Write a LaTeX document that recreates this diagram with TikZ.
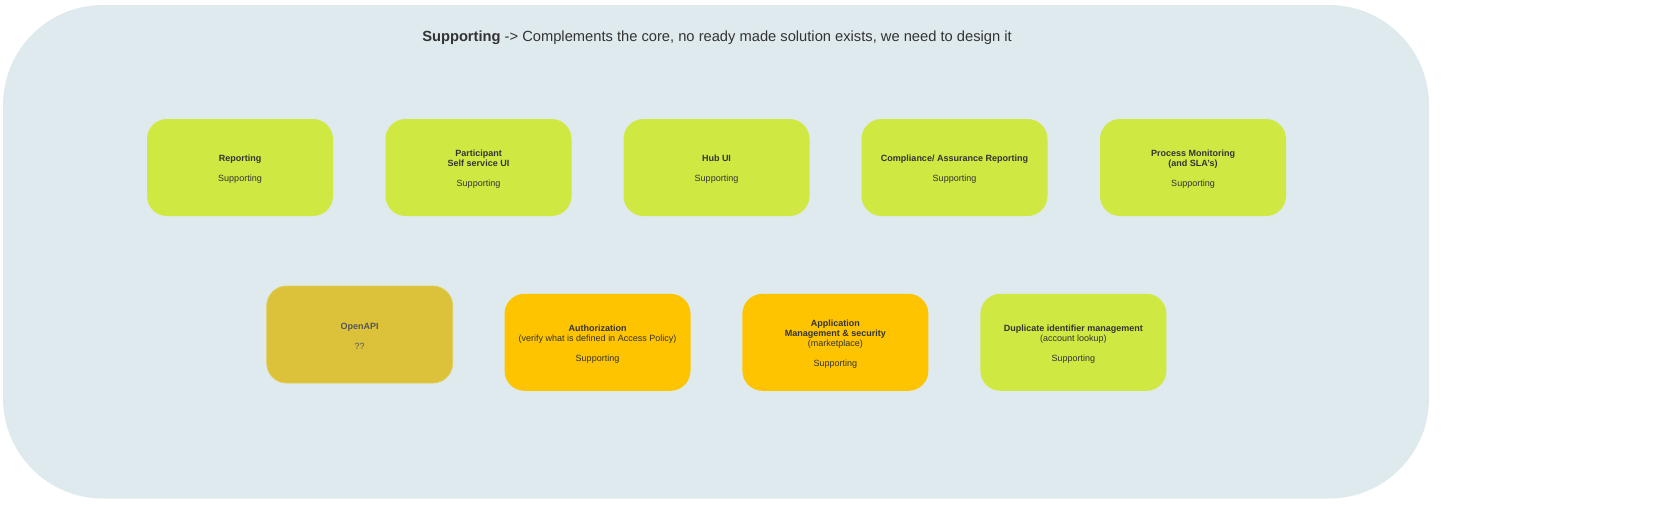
\documentclass[tikz,border=0pt]{standalone}
\usepackage{fontspec}
\setmainfont{Liberation Sans}
\definecolor{bgblue}{HTML}{DFEAEE}
\definecolor{lime}{HTML}{D0E842}
\definecolor{amber}{HTML}{FEC400}
\definecolor{mustard}{HTML}{DCC23A}
\definecolor{mustardline}{HTML}{E3CC55}
\definecolor{txt}{HTML}{333333}
\definecolor{txtgrey}{HTML}{555555}
\newcommand{\up}{\rule{0pt}{9.5pt}}
\tikzset{
  card/.style={rounded corners=20pt, minimum width=186pt, minimum height=97pt,
    align=center, inner sep=2pt, text=txt, font=\fontsize{9}{10}\selectfont},
  limecard/.style={card, fill=lime},
  ambercard/.style={card, fill=amber},
  mustardcard/.style={card, fill=mustard, draw=mustardline, line width=0.8pt, text=txtgrey},
}
\begin{document}
\begin{tikzpicture}[x=1pt,y=-1pt]
\useasboundingbox (0,0) rectangle (1670,504);
\fill[bgblue, rounded corners=100pt] (3,5) rectangle (1429,498.5);
\node[text=txt, font=\fontsize{14.7}{16}\selectfont] (title) at (717,38)
  {\textbf{Supporting} -> Complements the core, no ready made solution exists, we need to design it};

\node[limecard] (rep) at (240,167.5) {\up\textbf{Reporting}\\[10pt]Supporting};
\node[limecard] (part) at (478.5,167.5) {\up\textbf{Participant}\\\textbf{Self service UI}\\[10pt]Supporting};
\node[limecard] (hub) at (716.5,167.5) {\up\textbf{Hub UI}\\[10pt]Supporting};
\node[limecard] (comp) at (954.5,167.5) {\up\textbf{Compliance/ Assurance Reporting}\\[10pt]Supporting};
\node[limecard] (proc) at (1193,167.5) {\up\textbf{Process Monitoring}\\\textbf{(and SLA's)}\\[10pt]Supporting};

\node[mustardcard] (openapi) at (359.7,334.5) {\up\textbf{OpenAPI}\\[10pt]??};
\node[ambercard] (auth) at (597.5,342.3) {\up\textbf{Authorization}\\(verify what is defined in Access Policy)\\[10pt]Supporting};
\node[ambercard] (app) at (835.4,342.3) {\up\textbf{Application}\\\textbf{Management \& security}\\(marketplace)\\[10pt]Supporting};
\node[limecard] (dup) at (1073.4,342.3) {\up\textbf{Duplicate identifier management}\\(account lookup)\\[10pt]Supporting};
\end{tikzpicture}
\end{document}
